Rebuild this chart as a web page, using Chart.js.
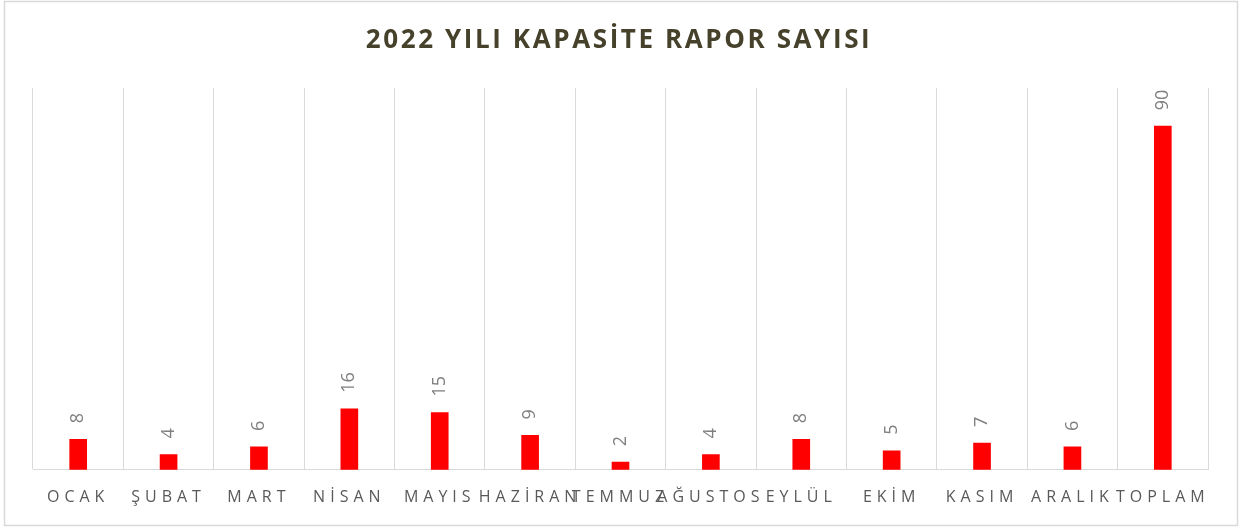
<!DOCTYPE html>
<html>
<head>
<meta charset="utf-8">
<script src="https://cdn.jsdelivr.net/npm/chart.js@4"></script>
<style>
  html, body { margin: 0; padding: 0; background: #ffffff; }
  #wrap { width: 1242px; height: 529px; position: relative; }
</style>
</head>
<body>
<div id="wrap"><canvas id="c" width="1242" height="529"></canvas></div>
<script>
const chartTitle = '2022 YILI KAPASİTE RAPOR SAYISI';
const categories = ['OCAK', 'ŞUBAT', 'MART', 'NİSAN', 'MAYIS', 'HAZİRAN', 'TEMMUZ', 'AĞUSTOS', 'EYLÜL', 'EKİM', 'KASIM', 'ARALIK', 'TOPLAM'];
const reportCounts = [8, 4, 6, 16, 15, 9, 2, 4, 8, 5, 7, 6, 90];
const yMin = 0;
const yMax = 100;

const framePlugin = {
  id: 'frame',
  beforeDraw(chart) {
    const ctx = chart.ctx;
    ctx.save();
    ctx.fillStyle = '#ffffff';
    ctx.fillRect(0, 0, chart.width, chart.height);
    ctx.strokeStyle = '#d9d9d9';
    ctx.lineWidth = 1.5;
    ctx.strokeRect(4.5, 1.5, chart.width - 9, chart.height - 5);
    ctx.restore();
    ctx.letterSpacing = '5px';
  },
  afterDatasetsDraw(chart) {
    const ctx = chart.ctx;
    const meta = chart.getDatasetMeta(0);
    ctx.save();
    ctx.letterSpacing = '0px';
    ctx.fillStyle = '#7f7f7f';
    ctx.font = '18px "Open Sans"';
    meta.data.forEach((bar, i) => {
      ctx.save();
      ctx.translate(bar.x, bar.y - 16);
      ctx.rotate(-Math.PI / 2);
      ctx.textAlign = 'left';
      ctx.textBaseline = 'middle';
      ctx.fillText(String(reportCounts[i]), 0, 0);
      ctx.restore();
    });
    ctx.restore();
  },
  afterDraw(chart) {
    const ctx = chart.ctx;
    ctx.save();
    ctx.letterSpacing = '2.6px';
    ctx.fillStyle = '#45412b';
    ctx.font = 'bold 26px "Open Sans"';
    ctx.textAlign = 'center';
    ctx.textBaseline = 'middle';
    ctx.fillText(chartTitle, chart.width / 2 - 2, 41);
    ctx.restore();
    ctx.letterSpacing = '0px';
  }
};

new Chart(document.getElementById('c'), {
  type: 'bar',
  data: {
    labels: categories,
    datasets: [{
      data: reportCounts,
      backgroundColor: '#ff0000',
      borderWidth: 0,
      barThickness: 17
    }]
  },
  options: {
    responsive: false,
    animation: false,
    layout: { padding: { top: 88, left: 33, right: 34, bottom: 4 } },
    plugins: {
      legend: { display: false },
      title: { display: false },
      tooltip: { enabled: false }
    },
    scales: {
      x: {
        offset: true,
        grid: { display: true, offset: true, color: '#d9d9d9', lineWidth: 1, drawTicks: false },
        border: { display: true, color: '#d9d9d9', width: 1 },
        ticks: {
          color: '#595959',
          font: { family: '"Open Sans"', size: 16 },
          padding: 18,
          autoSkip: false,
          maxRotation: 0,
          minRotation: 0
        }
      },
      y: {
        display: false,
        min: yMin,
        max: yMax
      }
    }
  },
  plugins: [framePlugin]
});
</script>
</body>
</html>
